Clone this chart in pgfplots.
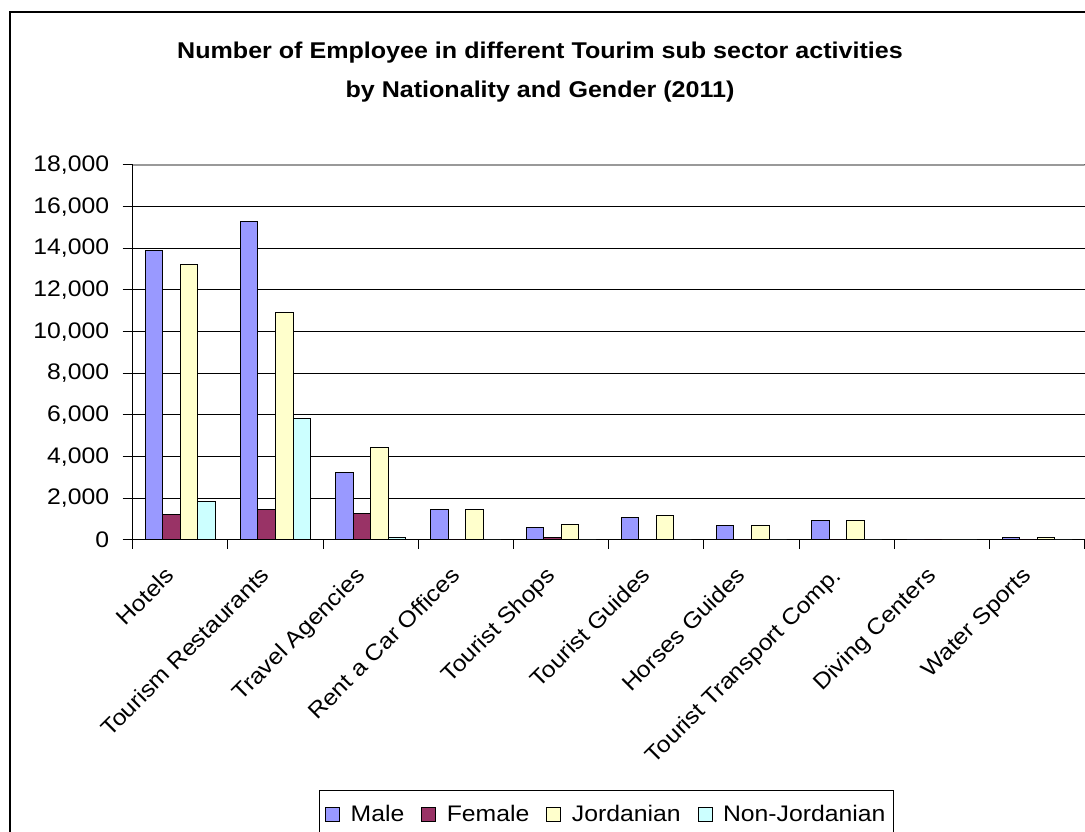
\documentclass[border=0pt]{standalone}
\usepackage{fontspec}
\setmainfont{Liberation Sans}[FakeStretch=1.1]
\usepackage{pgfplots}
\pgfplotsset{compat=1.18}
\definecolor{cMale}{HTML}{9999FF}
\definecolor{cFemale}{HTML}{993366}
\definecolor{cJor}{HTML}{FFFFCC}
\definecolor{cNon}{HTML}{CCFFFF}
\newcommand{\tickfont}{\fontsize{22.5}{26}\selectfont}
\begin{document}
\begin{tikzpicture}[x=1pt,y=1pt]
\useasboundingbox (0,0) rectangle (1085,832);
\draw[line width=2pt] (10,820) rectangle (1300,-100);
\node[font=\bfseries\fontsize{22.8}{26}\selectfont, anchor=base] at (540,773.5) {Number of Employee in different Tourim sub sector activities};
\node[font=\bfseries\fontsize{22.8}{26}\selectfont, anchor=base] at (540,734) {by Nationality and Gender (2011)};
\begin{axis}[
  at={(132.7pt,292pt)}, anchor=south west,
  width=952pt, height=375pt, scale only axis,
  ybar=0pt, bar width=0.184,
  xmin=-0.5, xmax=9.5, ymin=0, ymax=18000,
  scaled y ticks=false,
  axis x line*=bottom, axis y line*=left,
  axis line style={-, black, line width=1pt},
  xtick={0,...,9},
  xticklabels={Hotels,Tourism Restaurants,Travel Agencies,Rent a Car Offices,Tourist Shops,Tourist Guides,Horses Guides,Tourist Transport Comp.,Diving Centers,Water Sports},
  major x tick style={draw=none},
  minor xtick={-0.5,0.5,...,9.5},
  minor x tick style={black, line width=1pt},
  minor tick length=9pt,
  ytick={0,2000,...,18000},
  major tick length=10pt,
  major y tick style={black, line width=1pt},
  tick align=outside,
  ymajorgrids, grid style={black, line width=1pt},
  yticklabel style={font=\tickfont, xshift=-10pt},
  xticklabel style={font=\tickfont, rotate=45, anchor=north east, xshift=-19pt, yshift=4pt},
  /pgf/number format/.cd, 1000 sep={,}, assume math mode=true,
  /pgfplots/.cd,
  every axis plot/.append style={draw=black, line width=1pt},
  legend columns=4,
  legend style={at={(rel axis cs:0.4975,-0.667)}, anchor=north, draw=black, line width=1pt, font=\tickfont, inner xsep=6pt, inner ysep=13pt,
    /tikz/every even column/.append style={column sep=15pt},
    /tikz/every odd column/.append style={column sep=2.5pt}},
  legend image code/.code={\draw[#1, line width=1pt] (0pt,-7pt) rectangle (14pt,7pt); \path (20pt,0pt);},
]
\addplot[fill=cMale] coordinates {(0,13900) (1,15300) (2,3250) (3,1470) (4,620) (5,1090) (6,700) (7,930) (8,0) (9,140)};
\addplot[fill=cFemale] coordinates {(0,1200) (1,1440) (2,1280) (3,0) (4,130) (5,40) (6,0) (7,0) (8,0) (9,0)};
\addplot[fill=cJor] coordinates {(0,13200) (1,10900) (2,4440) (3,1470) (4,760) (5,1160) (6,700) (7,930) (8,0) (9,140)};
\addplot[fill=cNon] coordinates {(0,1850) (1,5830) (2,100) (3,0) (4,0) (5,0) (6,0) (7,0) (8,0) (9,0)};
\legend{Male,Female,Jordanian,Non-Jordanian}
\draw[gray!80, line width=1.2pt] (rel axis cs:0,1) -- (rel axis cs:1,1);
\end{axis}
\end{tikzpicture}
\end{document}
